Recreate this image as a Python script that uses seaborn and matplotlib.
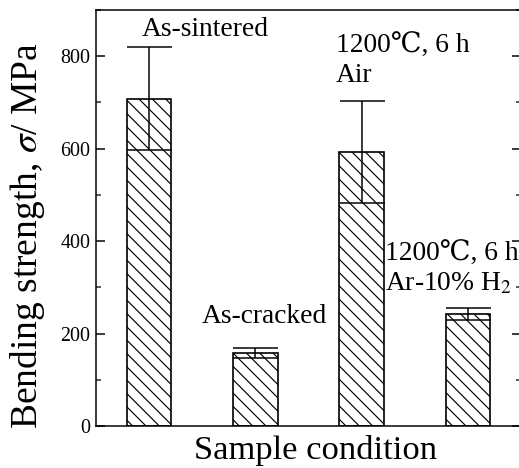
import matplotlib
matplotlib.use("Agg")
import matplotlib.pyplot as plt
import seaborn as sns
import pandas as pd
from matplotlib.ticker import MultipleLocator

categories = ["As-sintered", "As-cracked", "1200C Air", "1200C Ar-H2"]
strength = [708, 158, 593, 242]
err = [111, 10, 110, 13]
ticks = [0, 200, 400, 600, 800]

sns.set_theme(style="white")
plt.rcParams['font.family'] = ['Liberation Serif', 'DejaVu Serif']
plt.rcParams['mathtext.fontset'] = 'stix'
plt.rcParams['hatch.linewidth'] = 0.7

DPI = 120
BS = chr(92)
fig = plt.figure(figsize=(519 / DPI, 468 / DPI), dpi=DPI)
ax = fig.add_axes([96 / 519, 42 / 468, (521 - 96) / 519, (426 - 10) / 468])

df = pd.DataFrame({"cond": categories, "s": strength})
sns.barplot(data=df, x="cond", y="s", order=categories, color="white",
            edgecolor="black", linewidth=1.0, width=0.42, errorbar=None, ax=ax)
for p in ax.patches:
    p.set_hatch(BS * 3)
    p.set_facecolor('white')
    p.set_edgecolor('black')

ax.errorbar(range(len(categories)), strength, yerr=err, fmt='none',
            ecolor='black', elinewidth=0.9, capsize=13.5, capthick=0.9)

ax.set_xlim(-0.5, 3.5)
ax.set_ylim(0, 900)
ax.set_yticks(ticks)
ax.yaxis.set_minor_locator(MultipleLocator(100))
ax.set_xticks([])
ax.tick_params(axis='y', which='major', direction='in', length=5.4, width=0.9,
               labelsize=12, pad=3.5, right=True, left=True, colors='black')
ax.tick_params(axis='y', which='minor', direction='in', length=3, width=0.9,
               right=True, left=True)
for s in ax.spines.values():
    s.set_linewidth(0.9)
    s.set_color('black')

ax.set_xlabel("Sample condition", fontsize=20.7, color='black')
ax.set_ylabel("Bending strength, $" + BS + "sigma$/ MPa", fontsize=22.5, color='black')
ax.xaxis.label.set_va('center')
ax.yaxis.label.set_va('center')
ax.xaxis.set_label_coords((316 - 96) / 425, -(451 - 426) / 416)
ax.yaxis.set_label_coords((28 - 96) / 425, (426 - 236) / 416)

ann = dict(fontsize=16.5, color='black',
           family=['Liberation Serif', 'DejaVu Serif', 'Noto Sans CJK SC'])
ax.text(0.53, 857, "As-sintered", ha='center', va='center', **ann)
ax.text(1.08, 236, "As-cracked", ha='center', va='center', **ann)
ax.text(1.76, 824, "1200\u2103, 6 h", ha='left', va='center', **ann)
ax.text(1.76, 759, "Air", ha='left', va='center', **ann)
ax.text(2.22, 374, "1200\u2103, 6 h", ha='left', va='center', **ann)
ax.text(2.22, 309, "Ar-10% H$_2$", ha='left', va='center', **ann)

fig.savefig("out.png", dpi=DPI)
